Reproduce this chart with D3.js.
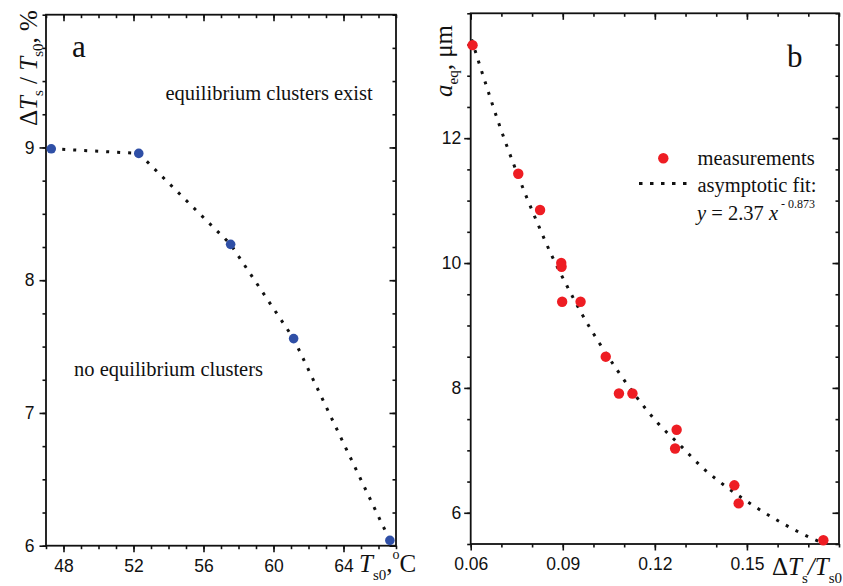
<!DOCTYPE html>
<html>
<head>
<meta charset="utf-8">
<script src="https://cdn.jsdelivr.net/npm/d3@7"></script>
</head>
<body style="margin:0;background:#fff">
<svg id="chart" width="843" height="586" style="display:block"></svg>
<script>
// ---------- Panel a data ----------
const tempX = [47.3, 52.3, 57.55, 61.15, 66.65];       // T_s0, °C
const ratioY = [8.99, 8.955, 8.27, 7.56, 6.04];         // ΔT_s/T_s0, %
const aXTicks = [48, 52, 56, 60, 64];
const aYTicks = [6, 7, 8, 9];

// ---------- Panel b data ----------
const dtX = [0.0606, 0.0755, 0.0826, 0.0895, 0.0896, 0.0898, 0.0958, 0.1040, 0.1083, 0.1127, 0.1271, 0.1266, 0.1459, 0.1473, 0.1749];
const aEq = [13.49, 11.43, 10.85, 10.0, 9.94, 9.38, 9.38, 8.50, 7.91, 7.91, 7.33, 7.03, 6.44, 6.15, 5.56];
// asymptotic fit curve
const fitX = [0.0603, 0.0647, 0.0692, 0.0741, 0.0780, 0.0821, 0.0865, 0.0913, 0.0964, 0.1019, 0.1078, 0.1141, 0.1207, 0.1281, 0.1358, 0.1440, 0.1529, 0.1620, 0.1716, 0.1745];
const fitY = [13.58, 12.90, 12.23, 11.57, 11.08, 10.60, 10.11, 9.64, 9.17, 8.72, 8.28, 7.85, 7.45, 7.09, 6.71, 6.39, 6.09, 5.82, 5.58, 5.52];
const bXTicks = [0.06, 0.09, 0.12, 0.15];
const bYTicks = [6, 8, 10, 12];

const SERIF = "'Liberation Serif', 'Times New Roman', serif";
const SANS = "'Liberation Sans', Arial, sans-serif";
const svg = d3.select("#chart");
const BLUE = "#2f4fa6", RED = "#ee1d23";
const DASH = "3 8";

function range(a, b, s) { const r = []; for (let v = a; v <= b + 1e-9; v += s) r.push(+v.toFixed(6)); return r; }
function serifText(x, y, size) {
  return svg.append("text").attr("x", x).attr("y", y)
    .style("font-family", SERIF).style("font-size", size + "px").style("fill", "#111");
}

function panel(cfg) {
  const { x, y, L, R, T, B, xMaj, xMin, yMaj, yMin, xFmt, yFmt, yPad } = cfg;
  const g = svg.append("g");
  const MAJ = 6.5, MIN = 3.5;
  g.append("g").attr("transform", `translate(0,${B})`)
    .call(d3.axisBottom(x).tickValues(xMin).tickSize(MIN).tickFormat(""));
  g.append("g").attr("class", "lab").attr("transform", `translate(0,${B})`)
    .call(d3.axisBottom(x).tickValues(xMaj).tickSize(MAJ).tickPadding(7).tickFormat(xFmt));
  g.append("g").attr("transform", `translate(0,${T})`)
    .call(d3.axisBottom(x).tickValues(xMin).tickSize(MIN).tickFormat(""));
  g.append("g").attr("transform", `translate(0,${T})`)
    .call(d3.axisBottom(x).tickValues(xMaj).tickSize(MAJ).tickFormat(""));
  g.append("g").attr("transform", `translate(${L},0)`)
    .call(d3.axisLeft(y).tickValues(yMin).tickSize(MIN).tickFormat(""));
  g.append("g").attr("class", "lab").attr("transform", `translate(${L},0)`)
    .call(d3.axisLeft(y).tickValues(yMaj).tickSize(MAJ).tickPadding(yPad).tickFormat(yFmt));
  g.append("g").attr("transform", `translate(${R},0)`)
    .call(d3.axisLeft(y).tickValues(yMin).tickSize(MIN).tickFormat(""));
  g.append("g").attr("transform", `translate(${R},0)`)
    .call(d3.axisLeft(y).tickValues(yMaj).tickSize(MAJ).tickFormat(""));
  g.selectAll(".domain").remove();
  g.selectAll(".tick line").attr("stroke", "#111").attr("stroke-width", 1.6);
  g.selectAll(".lab text").style("font-family", SANS).style("font-size", "17.5px").style("fill", "#111");
  g.append("rect").attr("x", L).attr("y", T).attr("width", R - L).attr("height", B - T)
    .attr("fill", "none").attr("stroke", "#111").attr("stroke-width", 1.8);
  return g;
}

// ================= Panel a =================
const xa = d3.scaleLinear().domain([47, 67]).range([46, 396]);
const ya = d3.scaleLinear().domain([6, 10]).range([545.7, 14.7]);
panel({ x: xa, y: ya, L: 46, R: 396, T: 14.7, B: 545.7,
  xMaj: aXTicks, xMin: range(47, 67, 1), yMaj: aYTicks, yMin: range(6, 10, 0.25),
  xFmt: d3.format("d"), yFmt: d3.format("d"), yPad: 5 });

const lineA = d3.line().x((d, i) => xa(tempX[i])).y((d, i) => ya(ratioY[i]));
svg.append("path").datum(tempX).attr("d", lineA)
  .attr("fill", "none").attr("stroke", "#111").attr("stroke-width", 3).attr("stroke-dasharray", DASH);
svg.append("g").selectAll("circle").data(tempX).join("circle")
  .attr("cx", d => xa(d)).attr("cy", (d, i) => ya(ratioY[i])).attr("r", 4.8).attr("fill", BLUE);

serifText(72, 57, 31).text("a");
serifText(165.5, 99.5, 20.5).text("equilibrium clusters exist");
serifText(74, 376, 20.5).text("no equilibrium clusters");

// y label a (rotated)
{
  const t = serifText(0, 0, 25).attr("transform", "translate(37,126) rotate(-90)");
  t.append("tspan").text("\u0394");
  t.append("tspan").style("font-style", "italic").text("T");
  t.append("tspan").style("font-size", "15px").attr("dy", 6).text("s");
  t.append("tspan").attr("dy", -6).text(" / ");
  t.append("tspan").style("font-style", "italic").text("T");
  t.append("tspan").style("font-size", "15px").attr("dy", 6).text("s0");
  t.append("tspan").attr("dy", -6).text(", %");
}
// x label a
{
  const t = serifText(359, 572, 25);
  t.append("tspan").style("font-style", "italic").text("T");
  t.append("tspan").style("font-size", "15px").attr("dy", 8).text("s0");
  t.append("tspan").attr("dy", -8).text(",");
  t.append("tspan").style("font-size", "14px").attr("dy", -13).text("o");
  t.append("tspan").attr("dy", 13).text("C");
}

// ================= Panel b =================
const xb = d3.scaleLinear().domain([0.06, 0.18]).range([470.7, 839]);
const yb = d3.scaleLinear().domain([5.5, 14]).range([544, 13.3]);
panel({ x: xb, y: yb, L: 470.7, R: 839, T: 13.3, B: 544,
  xMaj: bXTicks, xMin: range(0.06, 0.18, 0.01), yMaj: bYTicks, yMin: range(5.5, 14, 0.5),
  xFmt: d3.format(".2f"), yFmt: d3.format("d"), yPad: 3 });

const lineB = d3.line().curve(d3.curveMonotoneX).x((d, i) => xb(fitX[i])).y((d, i) => yb(fitY[i]));
svg.append("path").datum(fitX).attr("d", lineB)
  .attr("fill", "none").attr("stroke", "#111").attr("stroke-width", 3).attr("stroke-dasharray", DASH);
svg.append("g").selectAll("circle").data(dtX).join("circle")
  .attr("cx", d => xb(d)).attr("cy", (d, i) => yb(aEq[i])).attr("r", 5.2).attr("fill", RED);

serifText(787, 67, 31).text("b");

// legend
svg.append("circle").attr("cx", 663.3).attr("cy", 158.3).attr("r", 5.2).attr("fill", RED);
serifText(697.5, 165, 20.5).text("measurements");
svg.append("line").attr("x1", 639).attr("x2", 688).attr("y1", 183.5).attr("y2", 183.5)
  .attr("stroke", "#111").attr("stroke-width", 3.2).attr("stroke-dasharray", "3.5 7.5");
serifText(697.5, 191.5, 20.5).text("asymptotic fit:");
{
  const t = serifText(697, 220, 20.5);
  t.append("tspan").style("font-style", "italic").text("y");
  t.append("tspan").text(" = 2.37 ");
  t.append("tspan").style("font-style", "italic").text("x");
  t.append("tspan").style("font-size", "12px").attr("dy", -12).text(" - 0.873");
}

// y label b (rotated)
{
  const t = serifText(0, 0, 25).attr("transform", "translate(452,97) rotate(-90)");
  t.append("tspan").style("font-style", "italic").text("a");
  t.append("tspan").style("font-size", "15px").attr("dy", 6).text("eq");
  t.append("tspan").attr("dy", -6).text(", \u03bcm");
}
// x label b
{
  const t = serifText(772, 575, 25);
  t.append("tspan").text("\u0394");
  t.append("tspan").style("font-style", "italic").text("T");
  t.append("tspan").style("font-size", "15px").attr("dy", 8).text("s");
  t.append("tspan").attr("dy", -8).style("font-style", "italic").text("/T");
  t.append("tspan").style("font-size", "15px").attr("dy", 8).text("s0");
}
</script>
</body>
</html>
